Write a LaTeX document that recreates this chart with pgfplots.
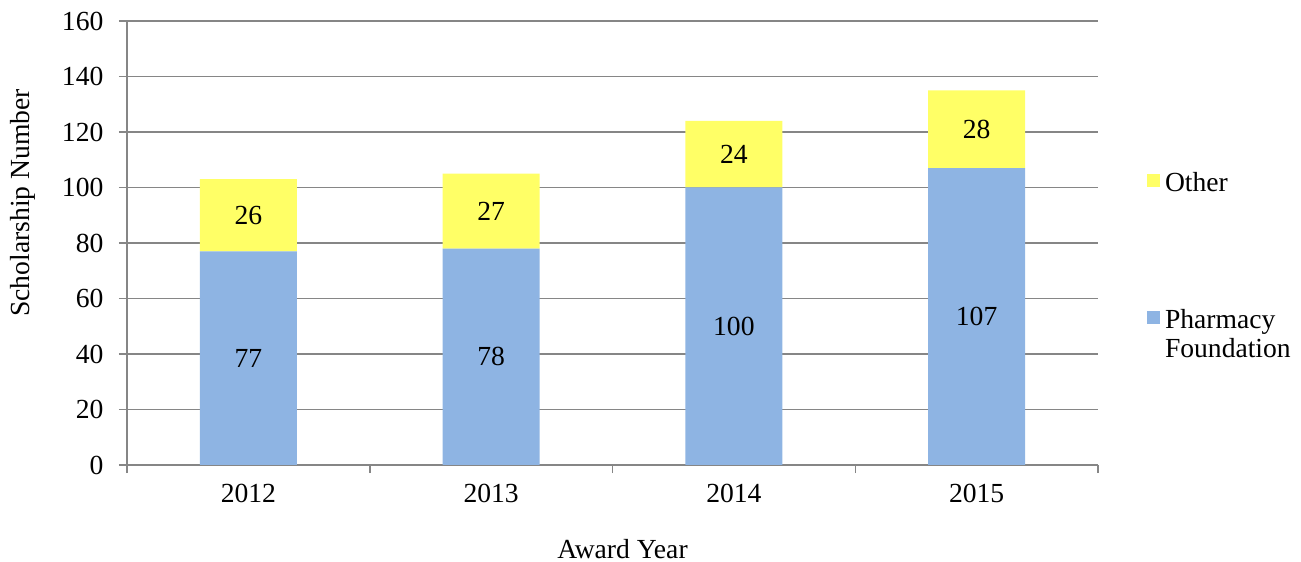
\documentclass[border=0pt]{standalone}
\usepackage{pgfplots}
\pgfplotsset{compat=1.18}
\usepackage{fontspec}
\setmainfont{Liberation Serif}
\definecolor{pfblue}{HTML}{8EB4E3}
\definecolor{othyellow}{HTML}{FFFF66}
\definecolor{gridgray}{HTML}{868686}
\begin{document}
\fontsize{13.8}{14.5}\selectfont
\begin{tikzpicture}
\useasboundingbox (0,0) rectangle (650.5pt,281pt);
\begin{axis}[
  at={(63.5pt,48.5pt)}, anchor=south west,
  scale only axis, width=485.5pt, height=222pt,
  ybar stacked, bar width=48.5pt,
  xmin=-0.5, xmax=3.5, ymin=0, ymax=160,
  xtick={0,1,2,3}, xticklabels={2012,2013,2014,2015},
  minor xtick={-0.5,0.5,1.5,2.5,3.5},
  ytick={0,20,...,160},
  ymajorgrids, grid style={gridgray, line width=0.75pt},
  axis lines*=left, axis line style={gridgray, line width=0.75pt},
  tick align=outside,
  major tick length=4pt, minor tick length=4pt,
  major x tick style={draw=none},
  minor x tick style={gridgray, line width=0.75pt},
  major y tick style={gridgray, line width=0.75pt},
  /pgf/number format/assume math mode=true,
  tick label style={font=\fontsize{13.8}{14.5}\selectfont},
  yticklabel style={xshift=-3pt},
  xticklabel style={yshift=-1pt},
  xlabel={Award Year},
  ylabel={Scholarship Number},
  xlabel style={at={([xshift=5pt,yshift=-42pt]axis description cs:0.5,0)}, anchor=center, font=\fontsize{13.8}{14.5}\selectfont},
  ylabel style={at={([xshift=-52pt,yshift=20pt]axis description cs:0,0.5)}, anchor=center, font=\fontsize{13.8}{14.5}\selectfont},
  visualization depends on=rawy \as \myrawy,
  nodes near coords={\pgfmathprintnumber{\myrawy}},
  every node near coord/.append style={anchor=center, font=\fontsize{13.8}{14.5}\selectfont, text=black},
  reverse legend,
  legend image code/.code={\fill[#1] (0pt,-9.9pt) rectangle (6.5pt,-3.4pt);},
  legend style={at={([xshift=24.3pt,yshift=-73.1pt]axis description cs:1,1)}, anchor=north west,
    draw=none, fill=none, inner sep=0pt, row sep=52.6pt, column sep=0.5pt,
    font=\fontsize{13.8}{14.5}\selectfont,
    cells={anchor=north west, align=left, inner sep=0pt}},
]
\addplot[fill=pfblue, draw=none] coordinates {(0,77) (1,78) (2,100) (3,107)};
\addlegendentry{Pharmacy\\Foundation}
\addplot[fill=othyellow, draw=none] coordinates {(0,26) (1,27) (2,24) (3,28)};
\addlegendentry{Other}
\end{axis}
\end{tikzpicture}
\end{document}
